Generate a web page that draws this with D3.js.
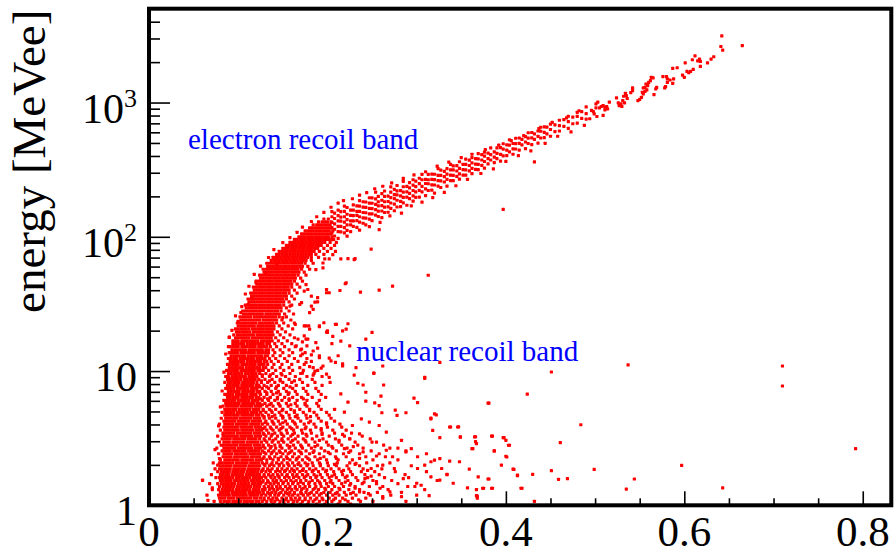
<!DOCTYPE html>
<html>
<head>
<meta charset="utf-8">
<script src="https://cdn.jsdelivr.net/npm/d3@7"></script>
<style>
  body { margin: 0; background: #fff; }
  svg { display: block; }
  text { font-family: "Liberation Serif", "Times New Roman", serif; }
</style>
</head>
<body>
<div id="chart"></div>
<script>
const WIDTH = 895;
const HEIGHT = 554;
const MARGIN = { left: 149, right: 3.7, top: 8.7, bottom: 48.7 };
const DOT = 3.2;

// axis setup
const xDomain = [0, 0.832];
const yDomain = [1, 5000];
const xMajorTicks = [0, 0.2, 0.4, 0.6, 0.8];
const xTickLabels = ['0', '0.2', '0.4', '0.6', '0.8'];
const yMajorTicks = [1, 10, 100, 1000];
const yTickBase = ['1', '10', '10', '10'];
const yTickExp = ['', '', '2', '3'];
const yTitle = 'energy [MeVee]';

// nuclear recoil region, one row per energy: [energy, q, q, q ...]
const nuclearRows = [
  [1.02, .082,.088,.093,.097,.101,.106,.110,.115,.119,.124,.131,.139,.146,.152,.161,.170,.178,.188,.197,.212,.226],
  [1.07, .073,.080,.084,.087,.090,.094,.097,.100,.103,.107,.110,.113,.116,.120,.123,.127,.132,.137,.141,.147,.151,.156,.162,.166,.172,.179,.184,.191,.199,.205,.214,.223,.237,.251,.288],
  [1.13, .079,.082,.085,.089,.092,.095,.099,.102,.105,.108,.111,.114,.118,.121,.125,.129,.134,.139,.143,.149,.154,.159,.164,.169,.175,.181,.188,.194,.202,.209,.217,.228,.243,.262,.368],
  [1.19, .065,.078,.081,.084,.087,.090,.094,.097,.100,.103,.106,.109,.113,.116,.119,.122,.126,.131,.136,.141,.145,.151,.157,.161,.167,.173,.178,.185,.191,.199,.206,.213,.221,.232,.248,.271,.300],
  [1.25, .080,.083,.086,.089,.093,.096,.099,.102,.105,.108,.112,.115,.118,.121,.124,.128,.133,.138,.142,.148,.153,.158,.163,.170,.176,.182,.188,.196,.203,.211,.219,.229,.241,.256,.283],
  [1.31, .071,.078,.082,.085,.088,.091,.094,.098,.101,.104,.107,.110,.113,.117,.120,.123,.127,.130,.135,.140,.144,.150,.155,.160,.166,.171,.177,.184,.190,.198,.205,.214,.224,.236,.268,.309,.367],
  [1.38, .079,.083,.086,.089,.092,.095,.099,.102,.105,.108,.111,.114,.118,.121,.124,.129,.134,.138,.143,.147,.153,.158,.164,.169,.175,.180,.187,.193,.201,.208,.218,.231,.247,.262,.298],
  [1.45, .068,.077,.081,.084,.087,.090,.093,.096,.100,.103,.106,.109,.112,.116,.119,.122,.125,.131,.136,.140,.145,.150,.156,.161,.167,.173,.179,.186,.192,.199,.206,.216,.226,.239,.255,.279],
  [1.53, .060,.080,.083,.086,.089,.092,.096,.099,.102,.105,.108,.111,.115,.118,.121,.124,.128,.133,.139,.143,.148,.154,.159,.165,.170,.176,.183,.189,.197,.204,.213,.223,.234,.251,.272,.323],
  [1.61, .075,.079,.082,.085,.088,.091,.094,.098,.101,.104,.107,.110,.113,.117,.120,.123,.126,.131,.137,.141,.146,.152,.157,.162,.168,.174,.181,.187,.194,.202,.210,.220,.232,.245,.264,.291],
  [1.69, .070,.080,.083,.086,.089,.093,.096,.099,.102,.105,.109,.112,.115,.118,.121,.124,.129,.134,.139,.144,.149,.155,.161,.166,.172,.178,.185,.192,.200,.208,.217,.228,.242,.258,.287,.334],
  [1.78, .077,.081,.084,.087,.090,.094,.097,.100,.103,.106,.110,.113,.116,.119,.122,.126,.131,.136,.142,.147,.152,.158,.163,.169,.176,.183,.190,.198,.207,.216,.226,.238,.253,.276,.311],
  [1.87, .074,.079,.082,.085,.088,.091,.095,.098,.101,.104,.107,.111,.114,.117,.120,.123,.128,.133,.138,.144,.149,.155,.160,.166,.173,.180,.187,.195,.204,.213,.224,.240,.261],
  [1.97, .080,.083,.086,.089,.092,.096,.099,.102,.105,.108,.112,.115,.118,.121,.124,.130,.135,.140,.146,.151,.157,.163,.170,.177,.184,.192,.201,.210,.222,.236,.256,.294],
  [2.07, .072,.079,.082,.085,.088,.091,.094,.098,.101,.104,.107,.110,.114,.117,.120,.123,.127,.132,.138,.143,.149,.155,.161,.168,.175,.183,.191,.200,.211,.225,.244,.270],
  [2.18, .080,.085,.088,.091,.094,.097,.100,.104,.107,.110,.113,.116,.120,.123,.126,.132,.139,.145,.151,.158,.165,.172,.180,.189,.199,.212,.228,.251,.279],
  [2.30, .083,.086,.089,.092,.096,.099,.102,.105,.108,.111,.115,.118,.121,.124,.129,.135,.141,.148,.154,.161,.168,.176,.186,.196,.209,.221,.243,.265,.301],
  [2.42, .078,.084,.087,.090,.093,.097,.100,.103,.106,.109,.113,.116,.119,.122,.125,.131,.137,.143,.150,.156,.163,.171,.180,.191,.203,.218,.236,.258,.311],
  [2.54, .082,.085,.088,.091,.095,.098,.101,.104,.107,.111,.114,.117,.120,.123,.127,.134,.140,.146,.153,.160,.168,.176,.185,.197,.210,.226,.249,.288],
  [2.67, .076,.084,.087,.090,.093,.096,.100,.103,.106,.109,.112,.115,.119,.122,.125,.130,.136,.142,.149,.157,.164,.172,.182,.193,.206,.222,.240,.270],
  [2.81, .083,.086,.089,.092,.095,.098,.102,.105,.108,.111,.114,.118,.121,.124,.128,.134,.141,.147,.155,.162,.170,.179,.189,.201,.216,.234,.263],
  [2.96, .079,.084,.087,.090,.094,.097,.100,.103,.106,.110,.113,.116,.119,.122,.126,.132,.138,.145,.151,.159,.167,.176,.186,.199,.213,.231,.255],
  [3.12, .082,.085,.088,.091,.095,.098,.101,.104,.107,.111,.114,.117,.120,.124,.129,.135,.142,.149,.156,.164,.173,.183,.195,.209,.225,.248],
  [3.28, .077,.084,.087,.090,.093,.096,.099,.103,.106,.109,.112,.115,.119,.122,.125,.131,.137,.144,.151,.159,.167,.177,.188,.202,.219,.239],
  [3.45, .083,.086,.089,.092,.095,.099,.102,.105,.108,.111,.114,.118,.121,.124,.128,.134,.141,.148,.155,.163,.172,.182,.194,.208,.227],
  [3.63, .080,.085,.088,.091,.094,.097,.100,.104,.107,.110,.113,.116,.120,.123,.126,.132,.139,.146,.154,.162,.171,.181,.193,.206,.221],
  [3.82, .084,.087,.090,.093,.096,.099,.103,.106,.109,.112,.115,.119,.122,.125,.130,.136,.143,.150,.158,.166,.176,.187,.200,.216],
  [4.02, .079,.085,.088,.091,.094,.098,.101,.104,.107,.110,.114,.117,.120,.123,.127,.133,.140,.147,.155,.164,.174,.185,.199,.214],
  [4.23, .084,.087,.090,.093,.096,.100,.103,.106,.109,.112,.116,.119,.122,.125,.131,.138,.145,.153,.161,.170,.181,.193,.208],
  [4.45, .081,.086,.089,.092,.095,.098,.102,.105,.108,.111,.114,.118,.121,.124,.129,.135,.142,.150,.158,.167,.177,.190,.204],
  [4.69, .085,.088,.091,.094,.097,.100,.104,.107,.110,.113,.116,.120,.123,.127,.134,.141,.148,.157,.166,.176,.188,.202],
  [4.93, .082,.086,.089,.092,.095,.099,.102,.105,.108,.111,.115,.118,.121,.125,.131,.138,.146,.154,.163,.173,.185,.199],
  [5.19, .085,.088,.091,.094,.097,.101,.104,.107,.110,.113,.117,.120,.123,.128,.135,.142,.150,.159,.169,.180,.193,.208],
  [5.47, .083,.087,.090,.093,.096,.099,.103,.106,.109,.112,.115,.119,.122,.125,.132,.139,.147,.156,.166,.177,.190],
  [5.75, .086,.089,.092,.095,.098,.101,.105,.108,.111,.114,.117,.121,.124,.130,.137,.145,.154,.164,.175,.188],
  [6.05, .084,.087,.090,.093,.096,.100,.103,.106,.109,.112,.116,.119,.122,.127,.134,.141,.149,.157,.166,.177,.191],
  [6.37, .088,.091,.094,.097,.100,.104,.107,.110,.113,.116,.120,.123,.129,.136,.144,.152,.161,.171,.183,.198],
  [6.70, .085,.088,.091,.094,.098,.101,.104,.107,.110,.114,.117,.120,.125,.132,.139,.147,.156,.166,.178,.193],
  [7.06, .089,.092,.095,.098,.101,.105,.108,.111,.114,.117,.121,.124,.130,.137,.145,.154,.164,.176,.190],
  [7.43, .086,.089,.092,.095,.099,.102,.105,.108,.111,.115,.118,.121,.127,.134,.142,.151,.161,.173,.187],
  [7.82, .088,.091,.094,.097,.100,.104,.107,.110,.113,.116,.120,.123,.129,.137,.145,.154,.165,.178,.194],
  [8.23, .085,.089,.092,.095,.098,.101,.105,.108,.111,.114,.117,.121,.126,.133,.141,.150,.160,.172,.186,.203],
  [8.66, .088,.091,.094,.097,.100,.103,.107,.110,.113,.116,.119,.123,.130,.138,.147,.157,.169,.183],
  [9.11, .086,.089,.093,.096,.099,.102,.105,.108,.112,.115,.118,.121,.127,.135,.143,.153,.164,.177,.194],
  [9.59, .089,.092,.095,.098,.101,.104,.108,.111,.114,.117,.120,.124,.131,.139,.148,.158,.170,.185],
  [10.1, .087,.090,.093,.096,.099,.103,.106,.109,.112,.115,.118,.122,.125,.128,.134,.142,.151,.161,.173,.189],
  [10.6, .090,.093,.096,.099,.102,.105,.109,.112,.115,.118,.121,.124,.128,.131,.138,.147,.157,.169,.184],
  [11.2, .088,.091,.094,.097,.100,.104,.107,.110,.113,.116,.119,.123,.126,.129,.133,.140,.149,.160,.174],
  [11.8, .091,.094,.097,.100,.103,.106,.110,.113,.116,.119,.122,.125,.129,.132,.137,.145,.155,.167,.182],
  [12.4, .089,.092,.095,.098,.102,.105,.108,.111,.114,.117,.121,.124,.127,.130,.135,.142,.152,.163,.177],
  [13.0, .092,.095,.098,.101,.104,.107,.111,.114,.117,.120,.123,.126,.130,.133,.139,.147,.157,.170],
  [13.7, .090,.093,.096,.099,.103,.106,.109,.112,.115,.118,.122,.125,.128,.131,.134,.141,.150,.161,.175],
  [14.4, .093,.096,.099,.102,.105,.108,.112,.115,.118,.121,.124,.127,.131,.134,.139,.147,.157,.170],
  [15.2, .091,.094,.097,.100,.104,.107,.110,.113,.116,.119,.123,.126,.129,.132,.136,.143,.152,.164],
  [16.0, .094,.097,.100,.103,.106,.110,.113,.116,.119,.122,.125,.128,.132,.135,.141,.149,.160],
  [16.8, .094,.097,.100,.104,.107,.110,.113,.116,.119,.122,.126,.129,.132,.135,.138,.145,.155],
  [17.7, .097,.100,.103,.106,.109,.112,.116,.119,.122,.125,.128,.131,.134,.137,.142,.151,.163],
  [18.6, .095,.099,.102,.105,.108,.111,.114,.117,.121,.124,.127,.130,.133,.136,.139,.147,.158],
  [19.6, .098,.101,.104,.107,.110,.113,.117,.120,.123,.126,.129,.132,.135,.138,.144,.153],
  [20.6, .097,.100,.103,.106,.109,.112,.116,.119,.122,.125,.128,.131,.134,.137,.140,.149,.161],
  [21.7, .100,.103,.106,.109,.112,.115,.118,.122,.125,.128,.131,.134,.137,.140,.146,.156],
  [22.8, .099,.102,.105,.108,.111,.114,.117,.120,.124,.127,.130,.133,.136,.139,.143,.151,.163],
  [24.0, .103,.106,.109,.112,.115,.118,.121,.124,.128,.131,.134,.137,.140,.143,.149,.159],
  [25.3, .102,.105,.108,.111,.114,.118,.121,.124,.127,.130,.133,.136,.139,.142,.146,.154],
  [26.6, .106,.109,.112,.115,.118,.121,.124,.127,.131,.134,.137,.140,.143,.146,.152,.162],
  [28.0, .105,.108,.111,.114,.117,.120,.123,.126,.129,.132,.135,.138,.141,.144,.148,.157],
  [29.5, .109,.112,.115,.118,.121,.124,.127,.130,.133,.136,.139,.142,.145,.148,.154],
  [31.0, .108,.111,.114,.117,.120,.123,.126,.129,.132,.135,.138,.141,.144,.147,.151,.160],
  [32.7, .112,.115,.118,.121,.124,.127,.130,.133,.136,.139,.142,.145,.148,.151,.157],
  [34.4, .111,.114,.117,.120,.123,.126,.129,.132,.135,.138,.141,.144,.147,.150,.154,.163],
  [36.2, .115,.118,.121,.124,.127,.130,.133,.136,.139,.142,.145,.148,.151,.154,.160],
  [38.1, .114,.117,.120,.123,.126,.129,.132,.135,.138,.141,.144,.147,.150,.153,.157,.166],
  [40.1, .118,.121,.124,.127,.130,.133,.136,.139,.142,.145,.148,.151,.154,.157,.163],
  [42.2, .117,.120,.123,.126,.129,.132,.135,.138,.141,.144,.147,.150,.153,.156,.160,.169],
  [44.4, .121,.124,.127,.130,.133,.136,.139,.142,.145,.148,.151,.154,.157,.160,.166],
  [46.7, .120,.123,.126,.129,.132,.135,.138,.141,.144,.147,.150,.153,.156,.159,.163,.172],
  [49.2, .125,.128,.131,.134,.137,.140,.143,.146,.149,.152,.155,.158,.161,.164,.170],
  [51.8, .124,.127,.130,.133,.136,.139,.142,.145,.148,.151,.154,.157,.160,.163,.167,.176],
  [54.5, .129,.132,.135,.138,.141,.144,.147,.150,.153,.156,.159,.162,.165,.168,.174],
  [57.3, .128,.131,.134,.137,.140,.143,.146,.149,.152,.155,.158,.161,.164,.167,.171,.180],
  [60.3, .133,.136,.139,.142,.145,.148,.151,.154,.157,.160,.163,.166,.169,.172,.178],
  [63.5, .132,.135,.138,.141,.144,.147,.150,.153,.156,.159,.162,.165,.168,.171,.175,.184],
  [66.8, .137,.140,.143,.146,.149,.152,.155,.158,.161,.164,.167,.170,.173,.176,.182],
  [70.3, .139,.142,.145,.148,.151,.154,.157,.160,.163,.166,.169,.172,.175,.178,.182,.190],
  [74.0, .143,.146,.149,.152,.155,.158,.161,.164,.167,.170,.173,.176,.179,.182,.187,.196],
  [77.9, .146,.149,.152,.155,.158,.161,.164,.167,.170,.173,.176,.179,.182,.185,.191,.200],
  [82.0, .150,.153,.156,.159,.162,.165,.168,.171,.174,.177,.180,.183,.186,.189,.196,.204],
  [86.3, .154,.157,.160,.163,.166,.169,.172,.175,.178,.181,.184,.187,.190,.193,.200,.208],
  [90.8, .158,.161,.164,.167,.170,.173,.176,.179,.182,.185,.188,.191,.194,.197,.203,.210],
  [95.6, .163,.166,.169,.172,.175,.178,.181,.184,.187,.190,.193,.196,.199,.202,.207],
  [100, .168,.171,.174,.177,.180,.183,.186,.189,.192,.195,.198,.201,.205],
  [105, .171,.174,.177,.180,.183,.186,.189,.192,.195,.198,.201,.204],
  [110.6, .175,.178,.181,.184,.187,.190,.193,.196,.199,.202,.206],
  [116.4, .180,.183,.186,.189,.192,.195,.198,.201,.204],
  [122.5, .184,.188,.191,.194,.197,.200,.203],
  [129, .190,.194,.197,.200,.204],
  [135.7, .196,.201]
];

// extra points in the medium-density part right of the core: [energy, q, q ...]
const nuclearFillRows = [
  [1.10, .129,.137,.144,.153,.160,.168,.175,.186,.195,.207,.220,.235],
  [1.22, .128,.135,.146,.155,.163,.171,.180,.193,.209,.226,.246],
  [1.34, .130,.138,.147,.157,.164,.173,.186,.197,.213,.231,.259],
  [1.49, .127,.134,.142,.151,.162,.170,.180,.191,.203,.220,.241],
  [1.65, .129,.136,.145,.154,.165,.176,.188,.205,.222,.249],
  [1.82, .127,.135,.144,.153,.162,.172,.184,.199,.218,.245],
  [2.02, .129,.137,.146,.156,.167,.178,.192,.208,.231],
  [2.24, .128,.136,.145,.155,.166,.178,.192,.210,.236],
  [2.48, .129,.138,.147,.158,.170,.184,.201,.224],
  [2.74, .128,.137,.147,.158,.171,.186,.205,.229],
  [3.04, .130,.139,.149,.161,.175,.191,.213],
  [3.37, .129,.138,.149,.161,.176,.194,.217],
  [3.72, .128,.137,.148,.160,.175,.193],
  [4.12, .130,.139,.150,.163,.179,.199],
  [4.57, .129,.138,.150,.164,.181],
  [5.06, .128,.137,.149,.163,.180],
  [5.61, .127,.135,.146,.159,.175],
  [6.21, .125,.133,.144,.157,.173],
  [6.87, .124,.132,.143,.157],
  [7.62, .124,.132,.143,.158],
  [8.44, .126,.135,.147,.163],
  [9.35, .127,.136,.149]
];

// electron recoil band, one column per q: [q, energy, energy ...]
const electronColumns = [
  [.205, 95.1,106.7,117,128,141,154],
  [.208, 101.4,113.8,124.7,136.8,150],
  [.212, 97.3,109.2,119.7,131.2,143.9,157.8],
  [.215, 108.9,119.4,130.9,140.3,153.8],
  [.219, 106.9,117.2,128.5,141,154.5,169.4],
  [.222, 111.7,122.5,134.3,147.2,165.2],
  [.226, 109.4,122.7,131.5,144.2,158.1],
  [.229, 119.7,131.2,143.9,157.8,173],
  [.233, 117.5,131.8,144.5,154.9,169.8],
  [.236, 128.5,141,154.5,169.4,185.8],
  [.240, 126.2,138.4,151.7,166.3,182.4],
  [.243, 122.7,137.7,151,165.6,181.6],
  [.247, 135.2,148.3,162.6,178.2,195.4],
  [.250, 131.8,147.9,162.2,177.8,195],
  [.254, 145.2,159.2,174.6,191.4,214.8],
  [.257, 141.6,155.2,170.2,182.4,200],
  [.261, 138.7,155.6,170.6,187.1,209.9],
  [.264, 151.7,166.3,182.4,200,219.3],
  [.268, 152.4,167.1,183.2,200.9],
  [.271, 162.9,178.6,195.9,214.8,235.5],
  [.275, 156.3,175.4,192.3,206.1,225.9],
  [.278, 166.7,187.1,205.1,219.8,241],
  [.282, 167.5,183.7,201.4,220.8],
  [.285, 179,196.3,215.3,236,258.8],
  [.289, 171.8,197.2,216.3,237.1],
  [.292, 192.3,210.9,231.2,253.5],
  [.296, 184.1,201.8,221.3,242.7,266.1],
  [.299, 196.8,215.8,236.6,259.4],
  [.303, 197.7,221.8,248.9,272.9],
  [.306, 216.3,237.1,266.1,291.7],
  [.310, 202.8,227.5,249.5,267.3],
  [.313, 221.3,248.3,266.1,291.7],
  [.317, 222.3,243.8,267.3,293.1],
  [.320, 211.8,243.2,266.7,292.4],
  [.324, 238.8,261.8,287.1,322.1],
  [.327, 232.8,261.2,286.4,314.1],
  [.331, 255.9,280.5,307.6],
  [.334, 238.2,267.3,293.1,321.4],
  [.338, 262.4,287.7,315.5,345.9],
  [.341, 261.8,287.1,314.8,337.3],
  [.345, 281.8,309,338.8],
  [.348, 268.5,294.4,322.8,362.2],
  [.352, 288.4,316.2,346.7],
  [.355, 287.7,315.5,345.9,379.3],
  [.359, 309.7,339.6,372.4],
  [.362, 295.1,323.6,354.8,389],
  [.366, 317.7,348.3,381.9],
  [.369, 316.2,346.7,380.2,416.9],
  [.373, 340.4,373.3,409.3],
  [.376, 324.3,363.9,399,427.6],
  [.380, 349.1,382.8,419.8],
  [.383, 373.3,409.3,459.2],
  [.387, 357.3,391.7,429.5],
  [.390, 381.9,418.8,459.2],
  [.394, 366.4,411.1,461.3],
  [.397, 400.9,449.8,493.3],
  [.401, 402.7,441.6,484.2],
  [.404, 429.5,482,528.4],
  [.408, 412.1,451.9,495.5],
  [.411, 450.8,494.3,542],
  [.415, 442.6,496.6,544.5],
  [.418, 484.2,530.9],
  [.422, 452.9,508.2,557.2],
  [.425, 495.5,543.3,595.7],
  [.429, 486.4,545.8,598.4],
  [.432, 532.1,583.4],
  [.436, 498.9,559.8,613.8],
  [.439, 544.5,610.9,654.6],
  [.443, 547,600,657.7],
  [.446, 584.8,656.1],
  [.450, 561.1,629.5,690.2],
  [.455, 608.1,682.3],
  [.460, 613.8,673,738],
  [.465, 665.3,746.5],
  [.470, 642.7,721.1,790.7],
  [.475, 695,779.8],
  [.480, 703.1,788.9,845.3],
  [.485, 762.1,855.1],
  [.490, 753.4,826,926.8]
];

// upper end of the electron band: [q, energy]
const electronTail = [
  [.642,3134],[.641,2614],[.643,2455],[.665,2655],[.633,2193],[.630,2108],[.626,1977],[.617,2108],
  [.615,2046],[.618,2023],[.612,2229],[.609,2084],[.601,1977],[.618,1858],[.610,1766],[.607,1706],
  [.605,1667],[.603,1706],[.598,1603],[.600,1542],[.592,1816],[.587,1795],[.580,1560],[.584,1472],
  [.581,1413],[.587,1390],[.579,1315],[.578,1285],[.588,1500],[.563,1542],[.565,1524],[.562,1455],
  [.560,1413],[.557,1374],[.559,1337],[.556,1297],[.554,1285],[.558,1242],[.553,1191],[.552,1094],
  [.554,1159],[.556,1213],[.550,1057],[.548,1035],[.542,1285],[.542,1227],[.540,1186],[.534,1172],
  [.532,1114],[.535,1127],[.536,1072],[.531,1035],[.533,995],[.529,977],[.527,950],[.530,934],
  [.526,995],[.524,1084],[.516,1007],[.513,934],[.514,898],[.511,923],[.509,950],[.507,934],
  [.505,914],[.503,1007],[.501,977],[.501,914],[.499,824],[.502,787],[.498,857],[.496,873],
  [.494,757],[.509,802],[.511,883],[.566,1146],[.569,1297],[.568,1262],[.581,1500],[.576,1560]
];

// sparse points outside the two dense bands: [q, energy]
const strayPoints = [
  [.432,361],[.397,160],[.258,113],[.249,81],[.223,68.7],[.231,68.7],[.313,51.7],[.273,42.9],
  [.214,39.8],[.537,11.1],[.710,10.9],[.710,7.74],[.451,9.84],[.230,67.6],[.206,73.6],[.197,68.4],
  [.202,68.4],[.195,63.8],[.187,57],[.195,58.6],[.258,40],[.237,38.7],[.220,44.7],[.199,40.5],
  [.199,38.3],[.176,44.1],[.178,40.5],[.174,39.4],[.182,36.1],[.186,32.6],[.189,32.8],[.182,30.5],
  [.184,28.8],[.180,27.2],[.171,32.3],[.196,22.9],[.209,22.3],[.223,22.5],[.191,21.4],[.176,21.7],
  [.179,21.7],[.200,19.9],[.199,19.5],[.217,19.9],[.250,19.4],[.243,17.3],[.206,18.1],[.215,16.7],
  [.174,18.3],[.176,17.3],[.172,16.5],[.177,15.4],[.171,14.6],[.205,16],[.225,15.4],[.189,14.8],
  [.184,14.1],[.191,13],[.182,13.2],[.212,13],[.202,12.5],[.209,11.6],[.217,11.3],[.232,10.6],
  [.262,10.9],[.252,9.66],[.326,11.6],[.309,8.98],[.176,11.6],[.180,10.8],[.186,10],[.193,10.5],
  [.199,9.5],[.202,8.98],[.184,9.33],[.172,9.66],[.209,77.8],[.215,68.4],[.221,45.4],[.202,38.3],
  [.189,35.2],[.169,31.4],[.158,30.5],[.150,25],[.164,22.3],[.174,21.7],[.180,20.5],[.178,17.3],
  [.191,21.7],[.210,22.3],[.221,20.5],[.200,19.4],[.187,16.3],[.167,17.3],[.165,15.4],[.172,13.4],
  [.191,12.6],[.204,11.9],[.195,10.9],[.217,10.9],[.090,17.9],[.103,27.2],[.115,35.2],[.120,45.4],
  [.131,53.8],[.143,62.1],[.154,73.6],[.165,84.8],[.060,1.54],[.066,1.09],[.071,1.35],[.079,2.23],
  [.077,1.99],[.081,2.8],[.083,3.32],[.087,4.94],[.090,8.72],[.090,17.8],[.100,23.5],[.111,31.3],
  [.094,11.6],
  [.230,9.33],[.252,9.61],[.234,8.11],[.240,7.87],[.263,7.87],[.309,8.83],[.243,6.95],[.215,6.76],
  [.223,5.86],[.243,5.96],[.253,5.79],[.260,6.5],[.258,5.53],[.297,6.28],[.301,5.82],[.424,6.73],
  [.380,5.77],[.219,4.94],[.276,5.12],[.288,4.89],[.261,4.89],[.278,4.67],[.316,4.41],[.322,4.72],
  [.337,3.83],[.346,3.83],[.365,3.23],[.367,2.88],[.362,2.64],[.384,3.28],[.397,3.19],[.400,3.05],
  [.403,2.8],[.387,2.54],[.400,2.32],[.395,1.99],[.408,1.86],[.413,1.66],[.430,1.7],[.417,1.34],
  [.432,1.07],[.384,1.34],[.374,1.34],[.367,1.18],[.380,1.57],[.369,1.63],[.359,1.86],[.357,1.35],
  [.349,3.23],[.326,2.23],[.337,2.13],[.348,2.11],[.341,1.46],[.328,1.88],[.316,2.11],[.320,2.17],
  [.309,1.99],[.316,1.63],[.301,1.88],[.305,1.41],[.314,1.18],[.326,1.54],[.334,1.7],[.288,2.5],
  [.294,2.64],[.283,3.05],[.279,2.67],[.273,2.3],[.285,1.58],[.290,1.38],[.300,1.46],[.283,1.16],
  [.270,1.26],[.275,1.88],[.262,1.99],[.255,2.33],[.266,2.57],[.250,2.96],[.266,3.51],[.258,3.93],
  [.247,4.17],[.238,4.41],[.228,3.93],[.225,3.13],[.236,3.41],[.219,2.64],[.240,2.5],[.232,2.05],
  [.249,1.88],[.242,1.58],[.255,1.5],[.236,1.26],[.262,1.16],[.225,1.41],
  [.484,3.98],[.792,2.64],[.597,1.98],[.643,1.35],[.535,1.32],[.544,1.57],[.499,1.85],[.461,2.93],
  [.451,1.81],[.469,1.58],[.459,1.56],[.381,5.77],[.366,3.24],[.366,2.98],[.363,2.64],[.349,3.22],
  [.347,3.84],[.338,3.83],[.326,3.19],[.318,3.61],[.320,4.8],[.316,4.46],[.381,1.57],[.385,1.34],
  [.375,1.34],[.368,1.17],[.418,1.34],[.413,1.68],[.409,1.85],[.401,2.29],[.404,2.8],[.398,3.19],
  [.387,2.54],[.385,3.28],
  // ragged left side of the nuclear band and edge of the electron band
  [.074,2.6],[.078,3.9],[.080,5.4],[.082,7.1],[.084,9.8],[.086,13.4],[.089,15.2],[.093,20.1],
  [.097,25.8],[.104,30.2],[.108,37.5],[.112,42.8],[.118,52.5],[.125,60.4],[.134,70.1],[.140,80.3],
  [.150,90.5],[.158,98.7],[.166,108],[.172,118],[.182,130],[.188,141],[.196,152],[.204,166],
  [.212,178],[.218,186],[.228,192],[.236,204],[.244,213],[.253,228],[.262,238],[.272,252],
  [.285,272],[.297,289],[.310,305],[.323,336],[.336,360],[.350,389],[.362,412],[.377,447],
  [.392,481],[.406,520],[.420,566],[.437,640],[.452,712],[.468,768],[.482,869],
  [.222,101],[.236,112],[.247,119],[.259,128],[.270,143],[.283,150],[.294,170],[.306,181],
  [.318,196],[.331,214],[.344,240],[.357,268],[.372,296],[.386,321],[.400,364],[.414,402],
  [.428,437],[.444,497],[.458,561],[.473,604],[.488,676]
];

// flatten everything into [q, energy] pairs
const points = [];
nuclearRows.forEach(r => r.slice(1).forEach(q => points.push([q, r[0]])));
nuclearFillRows.forEach(r => r.slice(1).forEach(q => points.push([q, r[0]])));
electronColumns.forEach(c => c.slice(1).forEach(e => points.push([c[0], e])));
electronTail.forEach(p => points.push(p));
strayPoints.forEach(p => points.push(p));

const svg = d3.select('#chart')
  .append('svg')
  .attr('width', WIDTH)
  .attr('height', HEIGHT);

svg.append('rect')
  .attr('width', WIDTH)
  .attr('height', HEIGHT)
  .attr('fill', '#fff');

const xScale = d3.scaleLinear()
  .domain(xDomain)
  .range([MARGIN.left, WIDTH - MARGIN.right]);

const yScale = d3.scaleLog()
  .domain(yDomain)
  .range([HEIGHT - MARGIN.bottom, MARGIN.top]);

// scatter, small square markers
svg.append('g')
  .attr('id', 'scatter')
  .selectAll('rect')
  .data(points)
  .join('rect')
  .attr('x', d => xScale(d[0]) - DOT / 2)
  .attr('y', d => yScale(d[1]) - DOT / 2)
  .attr('width', DOT)
  .attr('height', DOT)
  .attr('rx', 0.6)
  .attr('fill', '#ff0000');

// x ticks (drawn inside the frame)
const xMinor = d3.range(1, 17).map(i => i * 0.05).filter(v => Math.abs(v / 0.2 - Math.round(v / 0.2)) > 1e-6);
const yMinor = [];
[1, 10, 100, 1000].forEach(dec => {
  for (let m = 2; m <= 9; m++) if (dec * m < yDomain[1]) yMinor.push(dec * m);
});

function styleTicks(g) {
  g.select('.domain').remove();
  g.selectAll('line').attr('stroke', '#000').attr('stroke-width', 1.6);
}

svg.append('g')
  .attr('transform', `translate(0,${HEIGHT - MARGIN.bottom})`)
  .call(d3.axisTop(xScale).tickValues(xMinor).tickSize(7).tickFormat(''))
  .call(styleTicks);

svg.append('g')
  .attr('transform', `translate(0,${HEIGHT - MARGIN.bottom})`)
  .call(d3.axisTop(xScale).tickValues(xMajorTicks).tickSize(14).tickFormat(''))
  .call(styleTicks);

svg.append('g')
  .attr('transform', `translate(${MARGIN.left},0)`)
  .call(d3.axisRight(yScale).tickValues(yMinor).tickSize(11).tickFormat(''))
  .call(styleTicks);

svg.append('g')
  .attr('transform', `translate(${MARGIN.left},0)`)
  .call(d3.axisRight(yScale).tickValues(yMajorTicks).tickSize(21).tickFormat(''))
  .call(styleTicks);

// frame
svg.append('rect')
  .attr('x', MARGIN.left)
  .attr('y', MARGIN.top)
  .attr('width', WIDTH - MARGIN.left - MARGIN.right)
  .attr('height', HEIGHT - MARGIN.top - MARGIN.bottom)
  .attr('fill', 'none')
  .attr('stroke', '#000')
  .attr('stroke-width', 4);

// x labels
svg.append('g')
  .selectAll('text')
  .data(xMajorTicks)
  .join('text')
  .attr('x', d => xScale(d))
  .attr('y', 546)
  .attr('text-anchor', 'middle')
  .attr('font-size', 43)
  .text((d, i) => xTickLabels[i]);

// y labels
const yLab = svg.append('g')
  .selectAll('text')
  .data(yMajorTicks)
  .join('text')
  .attr('x', 137)
  .attr('y', d => yScale(d) + 20)
  .attr('text-anchor', 'end')
  .attr('font-size', 42);
yLab.append('tspan').text((d, i) => yTickBase[i]);
yLab.append('tspan')
  .attr('dy', -16)
  .attr('font-size', 26)
  .text((d, i) => yTickExp[i]);

// y title
svg.append('text')
  .attr('transform', `translate(45,${MARGIN.top + 1}) rotate(-90)`)
  .attr('text-anchor', 'end')
  .attr('font-size', 47)
  .text(yTitle);

// band annotations
svg.append('text')
  .attr('x', 188)
  .attr('y', 149)
  .attr('font-size', 29)
  .attr('fill', '#0000ff')
  .text('electron recoil band');

svg.append('text')
  .attr('x', 356)
  .attr('y', 361)
  .attr('font-size', 29)
  .attr('fill', '#0000ff')
  .text('nuclear recoil band');
</script>
</body>
</html>
